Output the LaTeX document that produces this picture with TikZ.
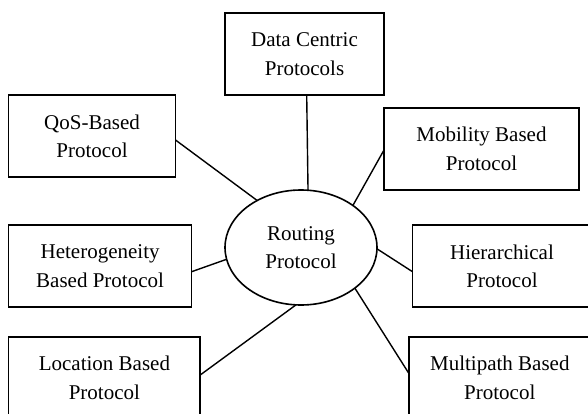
\documentclass[tikz,border=0pt]{standalone}
\usepackage{fontspec}
\setmainfont{Liberation Serif}
\usetikzlibrary{shapes.geometric}
\begin{document}
\begin{tikzpicture}[x=1pt,y=-1pt,
  pbox/.style={draw,line width=1.7pt,rectangle,inner sep=0pt,outer sep=0pt,
    minimum height=82pt,align=center,font=\fontsize{21}{28.5}\selectfont},
  hub/.style={draw,line width=1.6pt,ellipse,inner sep=0pt,outer sep=0pt,
    minimum width=152pt,minimum height=115pt,align=center,font=\fontsize{21}{28.5}\selectfont},
  link/.style={line width=1.4pt}]
\useasboundingbox (0,0) rectangle (588,414);
\clip (0,0) rectangle (588,414);
\node[pbox,minimum width=159pt] (dc) at (304.5,54.2) {Data Centric\\Protocols};
\node[pbox,minimum width=167pt] (qos) at (92,136.2) {QoS-Based\\Protocol};
\node[pbox,minimum width=195pt] (mob) at (481.5,148.9) {Mobility Based\\Protocol};
\node[pbox,minimum width=183pt] (het) at (100.1,266.3) {Heterogeneity\\Based Protocol};
\node[pbox,minimum width=179pt] (hier) at (502,266.3) {Hierarchical\\Protocol};
\node[pbox,minimum width=191.6pt] (loc) at (104.4,377.7) {Location Based\\Protocol};
\node[pbox,minimum width=182pt] (mp) at (499.8,377.7) {Multipath Based\\Protocol};
\node[hub] (r) at (301,247.5) {Routing\\Protocol};
\draw[link] ([xshift=2.2pt]dc.south) -- (r.83);
\draw[link] ([yshift=-3.8pt]qos.east) -- (r.133);
\draw[link] ([yshift=-1.1pt]mob.west) -- (r.39);
\draw[link] ([yshift=-5.4pt]het.east) -- (r.189);
\draw[link] ([yshift=-5.4pt]hier.west) -- (r.359);
\draw[link] ([yshift=2.7pt]loc.east) -- (r.265);
\draw[link] ([yshift=4.4pt]mp.west) -- (r.323);
\end{tikzpicture}
\end{document}
